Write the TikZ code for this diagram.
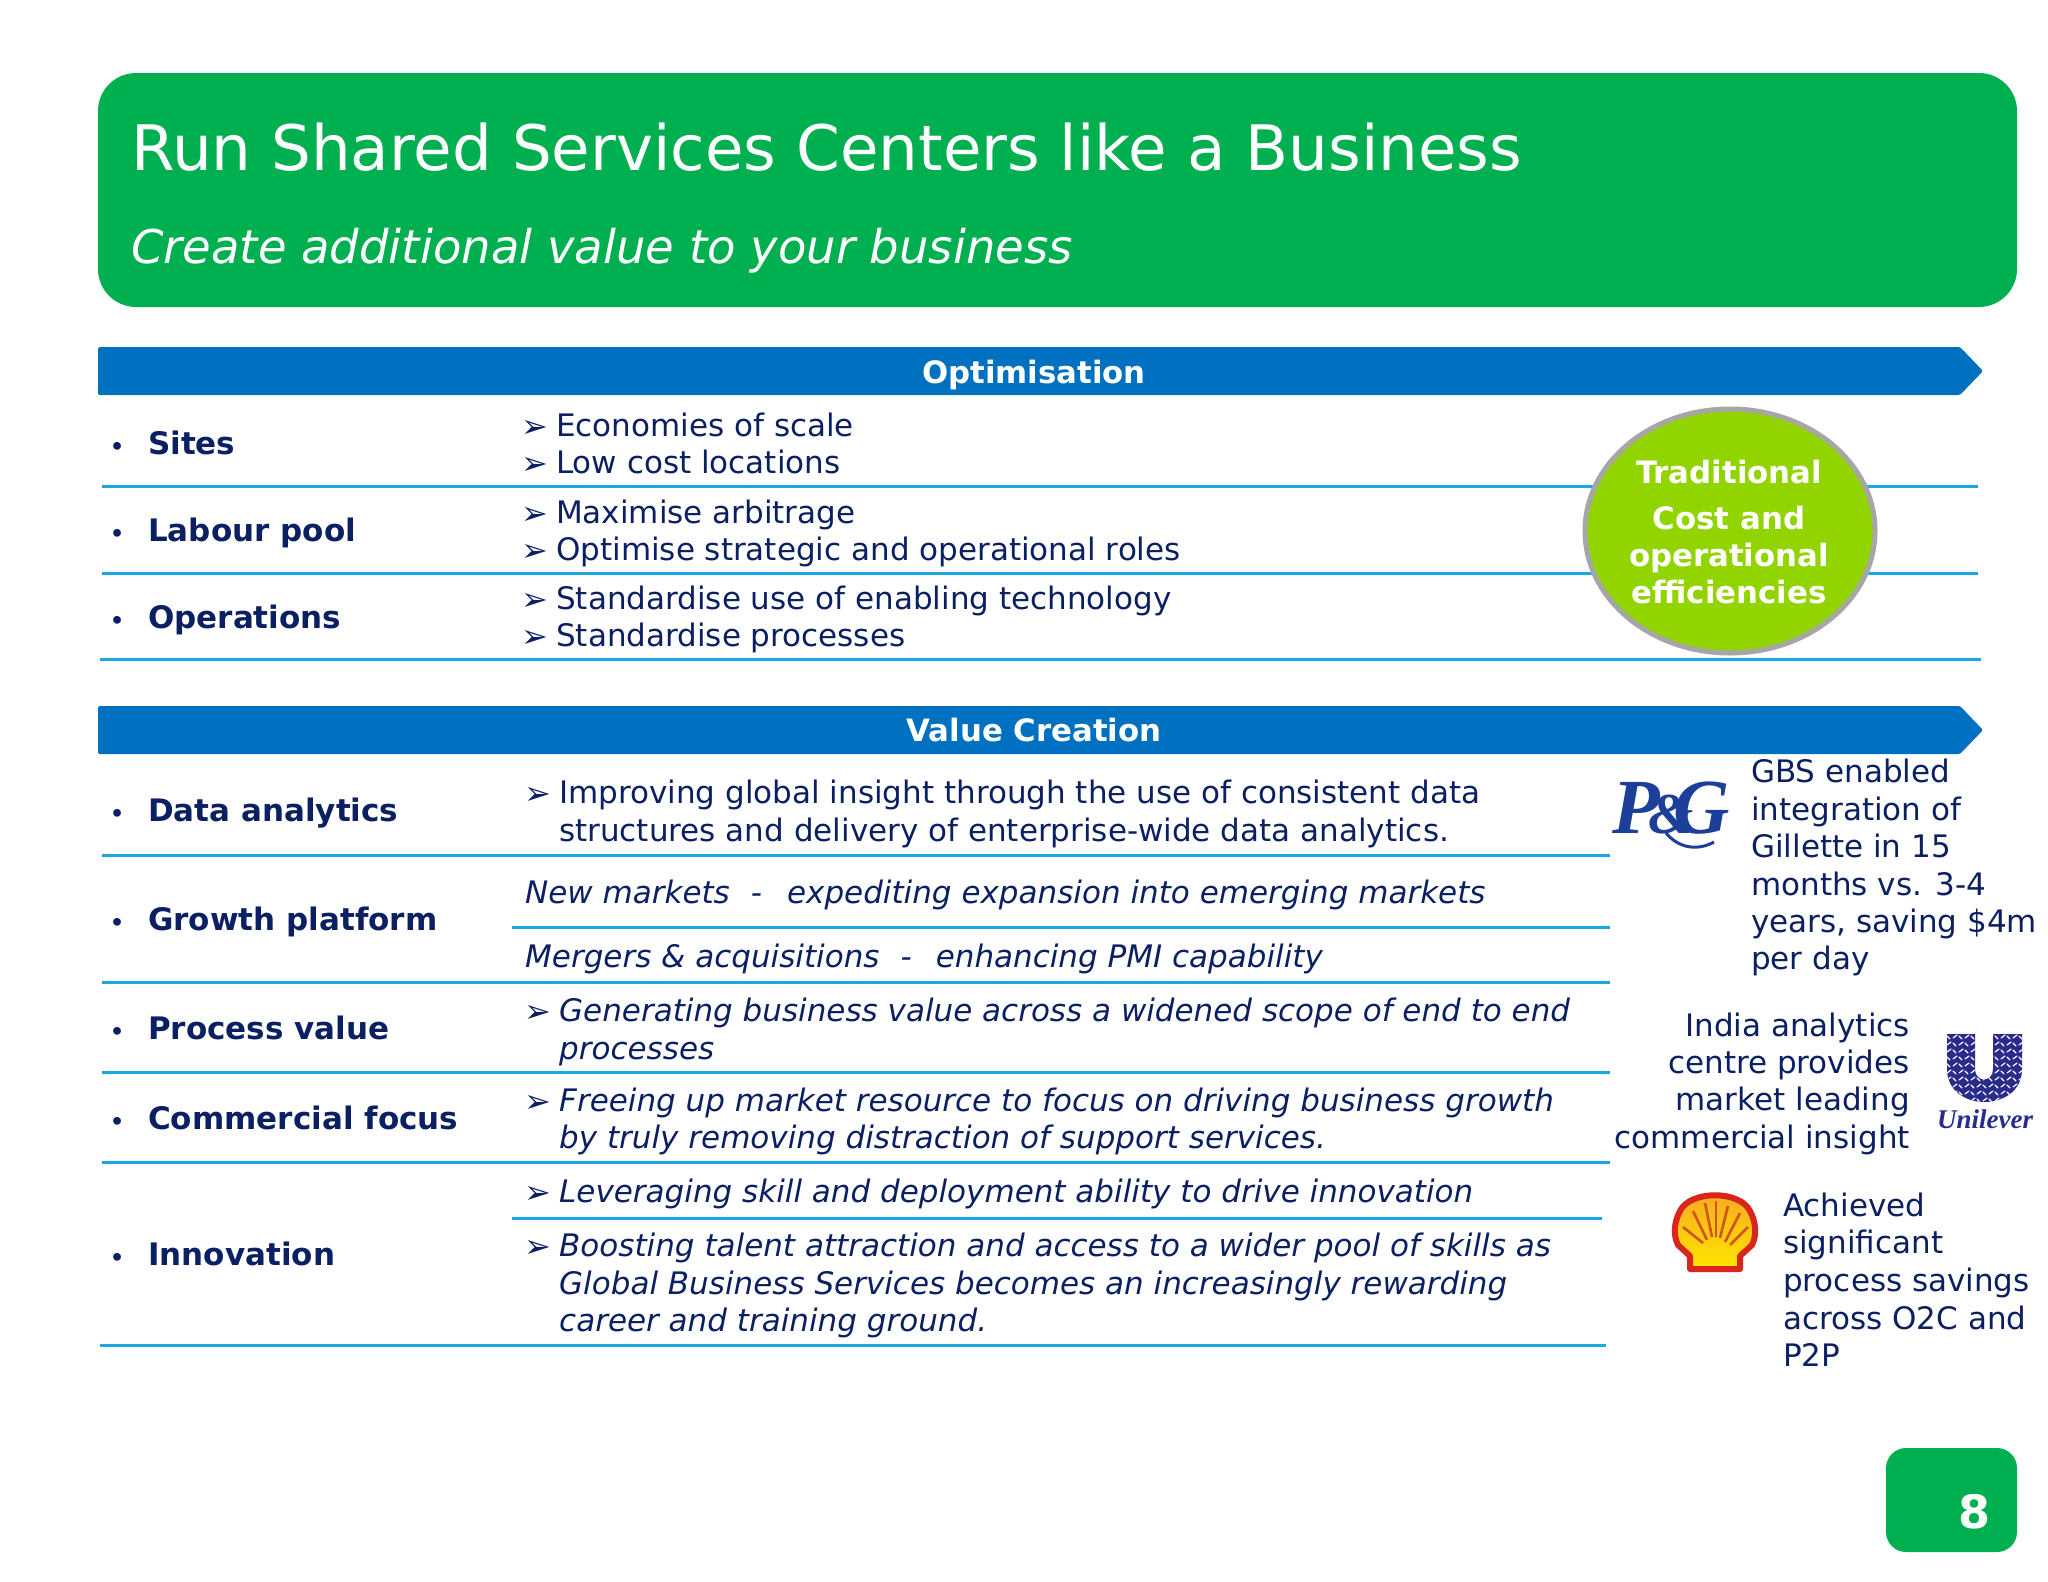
\documentclass[tikz,border=0pt]{standalone}
\usepackage{fontspec}
\setmainfont{DejaVu Sans}
\newfontfamily\logofont{Liberation Serif}
\usetikzlibrary{shapes.geometric}
\definecolor{hdrgreen}{HTML}{00B050}
\definecolor{barblue}{HTML}{0070C0}
\definecolor{rulecyan}{HTML}{1CA8E3}
\definecolor{navytxt}{HTML}{0B1F63}
\definecolor{limegreen}{HTML}{92D400}
\definecolor{ringgray}{HTML}{A6A6A6}
\definecolor{pgblue}{HTML}{1D3E99}
\definecolor{univiolet}{HTML}{2A2A8C}
\definecolor{shellred}{HTML}{D9261C}
\definecolor{shellray}{HTML}{D0551A}
\definecolor{shellorg}{HTML}{F7A823}
\definecolor{shellyel}{HTML}{FFE600}
\newcounter{nn}
\newcommand{\fs}[1]{\fontsize{#1}{#1}\selectfont}
\tikzset{
  bodytxt/.style={anchor=base west,inner sep=0pt,text=navytxt,font=\fs{31}},
  bodyit/.style={bodytxt,font=\fs{31}\itshape},
  sidetxt/.style={bodytxt,font=\fs{31}},
  sideright/.style={anchor=base east,inner sep=0pt,text=navytxt,font=\fs{31}},
  rowlabel/.style={bodytxt,font=\fs{31}\bfseries},
  bul/.style={bodytxt,font=\fs{22}\bfseries},
  barlabel/.style={anchor=base,inner sep=0pt,text=white,font=\fs{30.8}\bfseries},
  circtxt/.style={anchor=base,inner sep=0pt,text=white,font=\fs{30.8}\bfseries},
  hrule/.style={draw=rulecyan,line width=3pt},
  bluebar/.style={fill=barblue,draw=none},
  arrowmark/.style={bodytxt,font=\fs{32}},
}
\newcommand{\lbl}[2]{\stepcounter{nn}\node[bul] (n\thenn) at (110,#1) {•};\stepcounter{nn}\node[rowlabel] (n\thenn) at (148,#1) {#2};}
\newcommand{\itm}[4]{\stepcounter{nn}\node[arrowmark] (n\thenn) at (#1-2,#2+1) {➢};\stepcounter{nn}\node[#4] (n\thenn) at (#1+33,#2) {#3};}
\newcommand{\txtln}[4]{\stepcounter{nn}\node[#4] (n\thenn) at (#1,#2) {#3};}
\begin{document}
\begin{tikzpicture}[x=1pt,y=-1pt]
\useasboundingbox (0,0) rectangle (2048,1582);
\fill[white] (0,0) rectangle (2048,1582);
% header
\fill[hdrgreen,rounded corners=38pt] (98,73) rectangle (2017,307);
\node[anchor=base west,inner sep=0pt,text=white,font=\fs{62.7}] (title) at (131,170) {Run Shared Services Centers like a Business};
\node[anchor=base west,inner sep=0pt,text=white,font=\fs{46.5}\itshape] (subtitle) at (131,263) {Create additional value to your business};
% bars
\path[bluebar,rounded corners=1.5pt] (98,347) -- (1960,347) -- (1983,371) -- (1960,395) -- (98,395) -- cycle;
\path[bluebar,rounded corners=1.5pt] (98,706) -- (1960,706) -- (1983,730) -- (1960,754) -- (98,754) -- cycle;
\node[barlabel] (optbar) at (1034,383) {Optimisation};
\node[barlabel] (valbar) at (1034,741) {Value Creation};
% rules
\draw[hrule] (102,486) -- (1978,486);
\draw[hrule] (102,573) -- (1978,573);
\draw[hrule] (99.5,659) -- (1981,659);
\draw[hrule] (102,855) -- (1610,855);
\draw[hrule] (512,927) -- (1610,927);
\draw[hrule] (102,982) -- (1610,982);
\draw[hrule] (102,1072) -- (1610,1072);
\draw[hrule] (102,1162) -- (1610,1162);
\draw[hrule] (512,1218) -- (1602,1218);
\draw[hrule] (99.5,1345) -- (1606,1345);
% ellipse
\node[ellipse,draw=ringgray,fill=limegreen,line width=5pt,minimum width=290pt,minimum height=244pt,inner sep=0pt] (oval) at (1730,531) {};
\node[circtxt] (c1) at (1729,483) {Traditional};
\node[circtxt] (c2) at (1729,529) {Cost and};
\node[circtxt] (c3) at (1729,566) {operational};
\node[circtxt] (c4) at (1729,603) {efficiencies};
% top rows
\lbl{454}{Sites}
\lbl{541}{Labour pool}
\lbl{628}{Operations}
\itm{523}{436}{Economies of scale}{bodytxt}
\itm{523}{473}{Low cost locations}{bodytxt}
\itm{523}{523}{Maximise arbitrage}{bodytxt}
\itm{523}{560}{Optimise strategic and operational roles}{bodytxt}
\itm{523}{609}{Standardise use of enabling technology}{bodytxt}
\itm{523}{646}{Standardise processes}{bodytxt}
% value rows
\lbl{821}{Data analytics}
\lbl{930}{Growth platform}
\lbl{1039}{Process value}
\lbl{1129}{Commercial focus}
\lbl{1265}{Innovation}
\itm{526}{803}{Improving global insight through the use of consistent data}{bodytxt}
\txtln{559}{841}{structures and delivery of enterprise-wide data analytics.}{bodytxt}
\txtln{525}{903}{New markets\hspace{21pt}-\hspace{25pt}expediting expansion into emerging markets}{bodyit}
\txtln{525}{967}{Mergers \& acquisitions\hspace{21pt}-\hspace{24pt}enhancing PMI capability}{bodyit}
\itm{526}{1021}{Generating business value across a widened scope of end to end}{bodyit}
\txtln{559}{1059}{processes}{bodyit}
\itm{526}{1111}{Freeing up market resource to focus on driving business growth}{bodyit}
\txtln{559}{1148}{by truly removing distraction of support services.}{bodyit}
\itm{526}{1202}{Leveraging skill and deployment ability to drive innovation}{bodyit}
\itm{526}{1256}{Boosting talent attraction and access to a wider pool of skills as}{bodyit}
\txtln{559}{1294}{Global Business Services becomes an increasingly rewarding}{bodyit}
\txtln{559}{1331}{career and training ground.}{bodyit}
% side text
\txtln{1751}{782}{GBS enabled}{sidetxt}
\txtln{1751}{820}{integration of}{sidetxt}
\txtln{1751}{857}{Gillette in 15}{sidetxt}
\txtln{1751}{895}{months vs. 3-4}{sidetxt}
\txtln{1751}{932}{years, saving \$4m}{sidetxt}
\txtln{1751}{969}{per day}{sidetxt}
\txtln{1910}{1036}{India analytics}{sideright}
\txtln{1910}{1073}{centre provides}{sideright}
\txtln{1910}{1110}{market leading}{sideright}
\txtln{1910}{1148}{commercial insight}{sideright}
\txtln{1783}{1216}{Achieved}{sidetxt}
\txtln{1783}{1253}{significant}{sidetxt}
\txtln{1783}{1291}{process savings}{sidetxt}
\txtln{1783}{1329}{across O2C and}{sidetxt}
\txtln{1783}{1366}{P2P}{sidetxt}
% P&G logo
\node[anchor=base west,inner sep=0pt,text=pgblue,font=\logofont\bfseries\itshape] (pg) at (1612,833) {{\fs{78}P}\kern-11pt{\fs{58}\&}\kern-20pt{\fs{78}G}};
\draw[pgblue,line width=3pt] (1666,833) .. controls (1680,850) and (1700,850) .. (1714,842);
% Unilever logo
\begin{scope}
\clip (1947,1034) -- (1975,1034) -- (1975,1069) .. controls (1975,1083) and (1993,1083) .. (1993,1069) -- (1993,1034) -- (2022,1034) -- (2022,1069) .. controls (2022,1113) and (1947,1113) .. (1947,1069) -- cycle;
\fill[univiolet] (1940,1025) rectangle (2030,1110);
\foreach \yy in {1037,1044,...,1107} \foreach \xx in {1949,1955,...,2021} {
  \pgfmathtruncatemacro{\odd}{mod(\xx+\yy,4)}
  \ifnum\odd<2
    \draw[white,line width=1.2pt,line cap=round] (\xx-2,\yy+1) -- (\xx+2,\yy-2);
  \else
    \draw[white,line width=1.2pt,line cap=round] (\xx-2,\yy-1) -- (\xx+1,\yy+2);
  \fi
}
\end{scope}
\node[anchor=base,inner sep=0pt,text=univiolet,font=\logofont\fs{27}\itshape\bfseries] (uni) at (1985,1128) {Unilever};
% Shell logo
\path[top color=shellorg,bottom color=shellyel,draw=shellred,line width=6pt,line join=round] (1690,1269) -- (1690,1256) -- (1678,1245) .. controls (1673,1235) and (1674,1222) .. (1680,1211) .. controls (1690,1190) and (1740,1190) .. (1750,1211) .. controls (1756,1222) and (1757,1235) .. (1752,1245) -- (1740,1256) -- (1740,1269) -- cycle;
\foreach \ax/\ay/\bx/\by in {1683/1227/1703/1243,1693/1211/1707/1240,1705/1203/1712/1237,1716/1201/1716/1237,1728/1206/1720/1238,1740/1213/1725/1242,1748/1227/1730/1245}
  \draw[shellray,line width=2.6pt] (\ax,\ay) -- (\bx,\by);
% page number
\fill[hdrgreen,rounded corners=20pt] (1886,1448) rectangle (2017,1552);
\node[anchor=base,inner sep=0pt,text=white,font=\fs{46}\bfseries] (pagenum) at (1974,1528) {8};
\end{tikzpicture}
\end{document}
